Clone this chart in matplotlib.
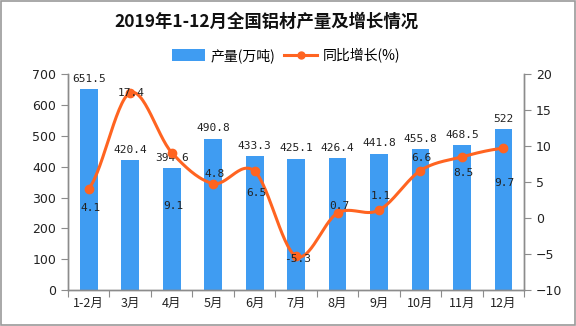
import numpy as np
import matplotlib
matplotlib.use("Agg")
import matplotlib.pyplot as plt
from matplotlib.patches import Rectangle
from matplotlib.lines import Line2D
from matplotlib.patches import Patch

plt.rcParams['font.family'] = ['Noto Sans CJK SC', 'DejaVu Sans']

title = "2019年1-12月全国铝材产量及增长情况"
categories = ["1-2月", "3月", "4月", "5月", "6月", "7月", "8月", "9月", "10月", "11月", "12月"]
production = [651.5, 420.4, 394.6, 490.8, 433.3, 425.1, 426.4, 441.8, 455.8, 468.5, 522]
growth = [4.1, 17.4, 9.1, 4.8, 6.5, -5.3, 0.7, 1.1, 6.6, 8.5, 9.7]
growth_label_offsets = [-19, 0, -53, 10, -22, -3, 7, 14, 13, -16, -35]  # pixel offsets (up positive)

bar_color = "#3F9CF2"
line_color = "#FF6421"
axis_color = "#8C8C8C"

fig = plt.figure(figsize=(5.76, 3.26), dpi=100)
fig.patch.set_facecolor("white")
fig.patches.append(Rectangle((0.001, 0.002), 0.997, 0.995, transform=fig.transFigure,
                             fill=False, edgecolor="#9A9A9A", linewidth=1.2))

ax = fig.add_axes([0.118, 0.110, 0.792, 0.663])
ax2 = ax.twinx()

x = np.arange(len(categories))
ax.bar(x, production, width=0.43, color=bar_color, zorder=2)
ax.set_xlim(-0.5, len(categories) - 0.5)
ax.set_ylim(0, 700)
ax.set_yticks(np.arange(0, 701, 100))
ax2.set_ylim(-10, 20)
ax2.set_yticks(np.arange(-10, 21, 5))

# smooth curve (Catmull-Rom) through growth points
def catmull_rom(xs, ys, n=30):
    xs = np.asarray(xs, float); ys = np.asarray(ys, float)
    px = np.concatenate([[2*xs[0]-xs[1]], xs, [2*xs[-1]-xs[-2]]])
    py = np.concatenate([[ys[0]], ys, [ys[-1]]])
    outx, outy = [], []
    for i in range(1, len(px) - 2):
        t = np.linspace(0, 1, n, endpoint=False)
        for arr, out in ((px, outx), (py, outy)):
            p0, p1, p2, p3 = arr[i-1], arr[i], arr[i+1], arr[i+2]
            out.extend(0.5 * ((2*p1) + (-p0 + p2)*t + (2*p0 - 5*p1 + 4*p2 - p3)*t**2
                              + (-p0 + 3*p1 - 3*p2 + p3)*t**3))
    outx.append(xs[-1]); outy.append(ys[-1])
    return np.array(outx), np.array(outy)

cx, cy = catmull_rom(x, growth)
ax2.plot(cx, cy, color=line_color, linewidth=2.2, zorder=3)
ax2.plot(x, growth, 'o', color=line_color, markersize=6, zorder=4)

mono = "DejaVu Sans Mono"
for xi, v in zip(x, production):
    lab = f"{v:g}"
    ax.annotate(lab, (xi, v), xytext=(0, 7.5), textcoords="offset points",
                ha="center", va="center", fontsize=8, family=mono, color="#222222", zorder=5)
for xi, v, off in zip(x, growth, growth_label_offsets):
    ax2.annotate(f"{v:g}", (xi, v), xytext=(1, off * 0.72), textcoords="offset points",
                 ha="center", va="center", fontsize=8, family=mono, color="#222222", zorder=5)

# axes styling
for a in (ax, ax2):
    a.spines["top"].set_visible(False)
    for s in ("left", "right", "bottom"):
        a.spines[s].set_color(axis_color)
        a.spines[s].set_linewidth(1.0)
ax.set_xticks(np.arange(-0.5, len(categories), 1.0))
ax.set_xticklabels([])
ax.set_xticks(x, minor=True)
ax.set_xticklabels(categories, minor=True, fontsize=9, color="#222222")
ax.tick_params(axis="x", which="major", length=5, color=axis_color, direction="out")
ax.tick_params(axis="x", which="minor", length=0, pad=5)
ax.tick_params(axis="y", length=5, color=axis_color, labelsize=9, labelcolor="#222222")
ax2.tick_params(axis="y", length=5, color=axis_color, labelsize=9, labelcolor="#222222")
for lbl in ax.get_yticklabels() + ax2.get_yticklabels():
    lbl.set_family("DejaVu Sans")

fig.text(0.462, 0.933, title, ha="center", va="center", fontsize=12.5, fontweight="bold", color="#111111")

handles = [Patch(facecolor=bar_color, edgecolor="none"),
           Line2D([0], [0], color=line_color, linewidth=2.2, marker="o", markersize=5)]
fig.legend(handles, ["产量(万吨)", "同比增长(%)"], loc="center", bbox_to_anchor=(0.497, 0.83),
           ncol=2, frameon=False, fontsize=10, handlelength=2.4, handleheight=0.9,
           columnspacing=0.6, handletextpad=0.4)

fig.savefig("out.png", dpi=100, facecolor="white")
